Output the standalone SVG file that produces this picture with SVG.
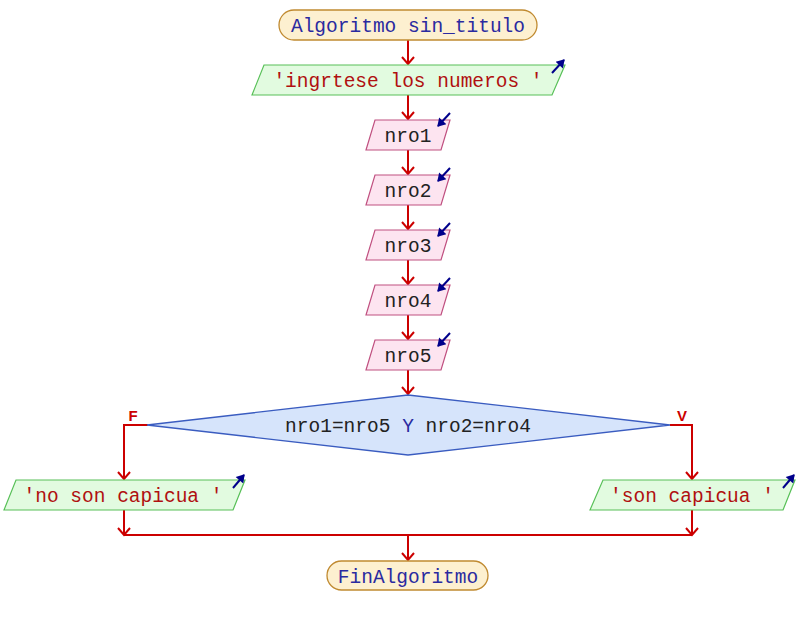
<svg xmlns="http://www.w3.org/2000/svg" width="798" height="625" viewBox="0 0 798 625">
<defs>
<marker id="ah" markerWidth="14" markerHeight="14" refX="12" refY="7" orient="auto" markerUnits="userSpaceOnUse" viewBox="0 0 14 14">
<path d="M5,1 L12,7 L5,13" fill="none" stroke="#cc0000" stroke-width="2"/>
</marker>
<marker id="blue" markerWidth="10" markerHeight="10" refX="8" refY="5" orient="auto" markerUnits="userSpaceOnUse" viewBox="0 0 10 10">
<path d="M1,0 L9,5 L1,10 Z" fill="#00008b"/>
</marker>
</defs>
<style>
.term{fill:#fdf0d0;stroke:#c08a30;stroke-width:1.3}
.out{fill:#e2fbe0;stroke:#58c058;stroke-width:1.2}
.in{fill:#fde4f0;stroke:#c05080;stroke-width:1.2}
.dec{fill:#d6e4fb;stroke:#3a5cc0;stroke-width:1.3}
.t{font-family:"Liberation Mono","Courier New",monospace;font-size:19.5px;text-anchor:middle}
.kw{fill:#2a2aa0}
.str{fill:#b01010}
.var{fill:#222222}
.c{fill:none;stroke:#cc0000;stroke-width:2}
.ico{fill:none;stroke:#00008b;stroke-width:2;marker-end:url(#blue)}
.lbl{font-family:"Liberation Sans",Arial,sans-serif;font-size:15px;font-weight:bold;fill:#cc0000;text-anchor:middle}
</style>
<g id="connectors">
<line class="c" x1="408" y1="40" x2="408" y2="64" marker-end="url(#ah)"/>
<line class="c" x1="408" y1="95" x2="408" y2="119" marker-end="url(#ah)"/>
<line class="c" x1="408" y1="150" x2="408" y2="174" marker-end="url(#ah)"/>
<line class="c" x1="408" y1="205" x2="408" y2="229" marker-end="url(#ah)"/>
<line class="c" x1="408" y1="260" x2="408" y2="284" marker-end="url(#ah)"/>
<line class="c" x1="408" y1="315" x2="408" y2="339" marker-end="url(#ah)"/>
<line class="c" x1="408" y1="370" x2="408" y2="394" marker-end="url(#ah)"/>
<polyline class="c" points="148,425 124,425 124,479" marker-end="url(#ah)"/>
<polyline class="c" points="670,425 692,425 692,479" marker-end="url(#ah)"/>
<line class="c" x1="124" y1="510" x2="124" y2="535" marker-end="url(#ah)"/>
<line class="c" x1="692" y1="510" x2="692" y2="535" marker-end="url(#ah)"/>
<line class="c" x1="124" y1="535" x2="692" y2="535"/>
<line class="c" x1="408" y1="535" x2="408" y2="560" marker-end="url(#ah)"/>
<text class="lbl" x="133" y="421">F</text>
<text class="lbl" x="682" y="421">V</text>
</g>
<g id="start">
<rect class="term" x="279" y="10" width="258" height="30" rx="15" ry="15"/>
<text class="t kw" x="408" y="32">Algoritmo sin_titulo</text>
</g>
<g id="out1">
<polygon class="out" points="264,65 565,65 552,95 252,95"/>
<text class="t str" x="408" y="87">'ingrtese los numeros '</text>
<line class="ico" x1="552" y1="73" x2="564" y2="60"/>
</g>
<g id="in1">
<polygon class="in" points="375,120 450,120 441,150 366,150"/>
<text class="t var" x="408" y="142">nro1</text>
<line class="ico" x1="450" y1="113" x2="438" y2="126"/>
</g>
<g id="in2">
<polygon class="in" points="375,175 450,175 441,205 366,205"/>
<text class="t var" x="408" y="197">nro2</text>
<line class="ico" x1="450" y1="168" x2="438" y2="181"/>
</g>
<g id="in3">
<polygon class="in" points="375,230 450,230 441,260 366,260"/>
<text class="t var" x="408" y="252">nro3</text>
<line class="ico" x1="450" y1="223" x2="438" y2="236"/>
</g>
<g id="in4">
<polygon class="in" points="375,285 450,285 441,315 366,315"/>
<text class="t var" x="408" y="307">nro4</text>
<line class="ico" x1="450" y1="278" x2="438" y2="291"/>
</g>
<g id="in5">
<polygon class="in" points="375,340 450,340 441,370 366,370"/>
<text class="t var" x="408" y="362">nro5</text>
<line class="ico" x1="450" y1="333" x2="438" y2="346"/>
</g>
<g id="decision">
<polygon class="dec" points="408,395 670,425 408,455 147,425"/>
<text class="t var" x="408" y="432">nro1=nro5 <tspan class="kw">Y</tspan> nro2=nro4</text>
</g>
<g id="out2">
<polygon class="out" points="16,480 245,480 233,510 4,510"/>
<text class="t str" x="123" y="502">'no son capicua '</text>
<line class="ico" x1="233" y1="488" x2="244" y2="475"/>
</g>
<g id="out3">
<polygon class="out" points="603,480 795,480 783,510 590,510"/>
<text class="t str" x="692" y="502">'son capicua '</text>
<line class="ico" x1="783" y1="488" x2="794" y2="475"/>
</g>
<g id="end">
<rect class="term" x="327" y="561" width="161" height="29" rx="14.5" ry="14.5"/>
<text class="t kw" x="408" y="583">FinAlgoritmo</text>
</g>
</svg>
